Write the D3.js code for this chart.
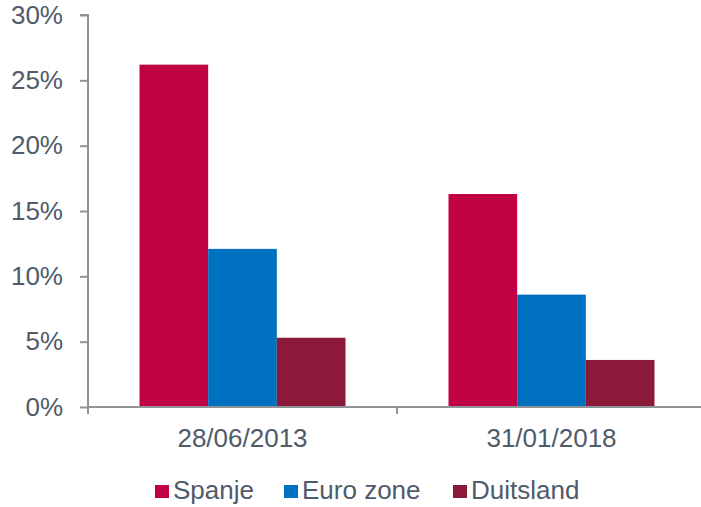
<!DOCTYPE html>
<html>
<head>
<meta charset="utf-8">
<script src="https://cdn.jsdelivr.net/npm/d3@7"></script>
<style>
    body { margin: 0; background: #fff; }
    svg text { font-family: "Liberation Sans", Arial, sans-serif; fill: #4f5b69; }
</style>
</head>
<body>
<div id="chart"></div>
<script>
// data
var categories = ["28/06/2013", "31/01/2018"];
var seriesNames = ["Spanje", "Euro zone", "Duitsland"];
var spanje = [26.2, 16.3];
var euroZone = [12.1, 8.6];
var duitsland = [5.3, 3.6];
var yTicks = [0, 5, 10, 15, 20, 25, 30];
var colors = ["#c20044", "#0070c0", "#8b1a3a"];

var seriesValues = [spanje, euroZone, duitsland];

var width = 701, height = 507;
var axisColor = "#8f9499";
var fontSize = 26;

var svg = d3.select("#chart")
    .append("svg")
    .attr("width", width)
    .attr("height", height);

var x0 = d3.scaleBand().domain(categories).range([88, 706])
    .paddingInner(1 / 3).paddingOuter(1 / 6);
var x1 = d3.scaleBand().domain(seriesNames).range([0, x0.bandwidth()]);
var y = d3.scaleLinear().domain([0, 30]).range([407, 15]);

// bars
var groups = svg.selectAll(".group")
    .data(categories)
    .enter().append("g")
    .attr("class", "group")
    .attr("transform", function (d) { return "translate(" + x0(d) + ",0)"; });

groups.selectAll("rect")
    .data(function (d, i) {
        return seriesNames.map(function (s, j) {
            return { name: s, value: seriesValues[j][i], color: colors[j] };
        });
    })
    .enter().append("rect")
    .attr("x", function (d) { return x1(d.name); })
    .attr("y", function (d) { return y(d.value); })
    .attr("width", x1.bandwidth())
    .attr("height", function (d) { return y(0) - y(d.value); })
    .attr("fill", function (d) { return d.color; });

// y axis
var yAxis = svg.append("g")
    .attr("transform", "translate(88,0)")
    .call(d3.axisLeft(y).tickValues(yTicks).tickSize(8).tickPadding(17)
        .tickFormat(function (d) { return d + "%"; }));
yAxis.select(".domain").attr("stroke", axisColor).attr("stroke-width", 2)
    .attr("d", "M-8,15H0V407");
yAxis.selectAll(".tick line").attr("stroke", axisColor).attr("stroke-width", 2);
yAxis.selectAll(".tick text")
    .style("font-size", fontSize + "px")
    .attr("fill", null);

// x axis
svg.append("line")
    .attr("x1", 88).attr("x2", 706)
    .attr("y1", y(0)).attr("y2", y(0))
    .attr("stroke", axisColor).attr("stroke-width", 2);

var boundaries = [x0.range()[0], x0(categories[1]) - x0.step() * x0.paddingInner() / 2];
svg.selectAll(".xtick")
    .data(boundaries)
    .enter().append("line")
    .attr("x1", function (d) { return d; })
    .attr("x2", function (d) { return d; })
    .attr("y1", y(0)).attr("y2", y(0) + 7)
    .attr("stroke", axisColor).attr("stroke-width", 2);

svg.selectAll(".xlabel")
    .data(categories)
    .enter().append("text")
    .attr("x", function (d) { return x0(d) + x0.bandwidth() / 2; })
    .attr("y", 447)
    .attr("text-anchor", "middle")
    .style("font-size", fontSize + "px")
    .text(function (d) { return d; });

// legend
var legendX = [155, 284, 453];
var legend = svg.selectAll(".legend")
    .data(seriesNames)
    .enter().append("g")
    .attr("class", "legend")
    .attr("transform", function (d, i) { return "translate(" + legendX[i] + ",0)"; });

legend.append("rect")
    .attr("x", 0).attr("y", 485)
    .attr("width", 14).attr("height", 13)
    .attr("fill", function (d, i) { return colors[i]; });

legend.append("text")
    .attr("x", 18).attr("y", 499)
    .style("font-size", fontSize + "px")
    .text(function (d) { return d; });
</script>
</body>
</html>
